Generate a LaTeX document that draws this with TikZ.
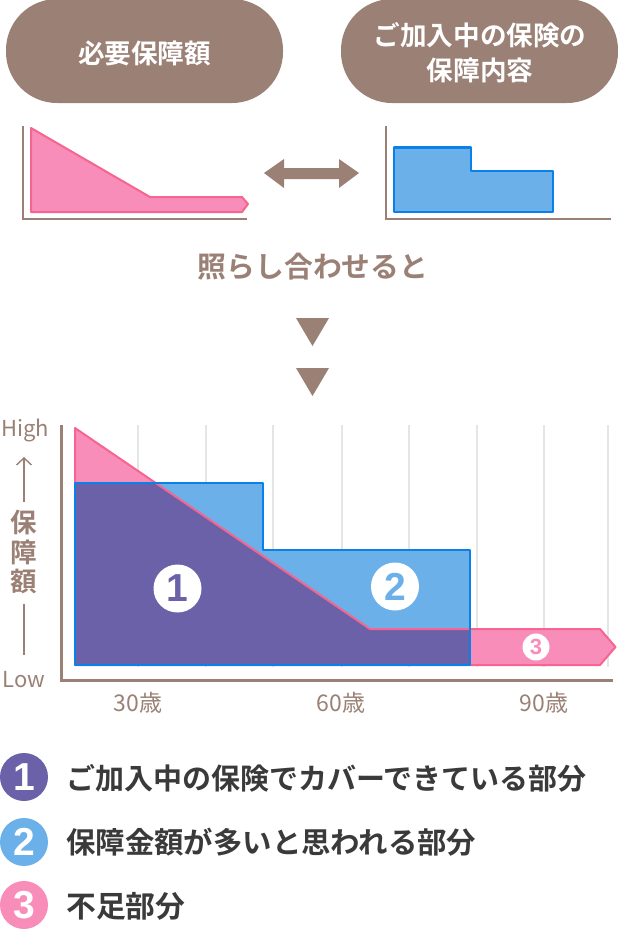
\documentclass[tikz,border=0pt]{standalone}
\usepackage{fontspec}
\setmainfont{Noto Sans CJK JP}[BoldFont={Noto Sans CJK JP Bold}]
\newfontfamily\digitf{Liberation Sans}
\usetikzlibrary{arrows.meta}
\definecolor{brownc}{HTML}{9A8075}
\definecolor{pinkf}{HTML}{F88DB9}
\definecolor{pinks}{HTML}{F5658F}
\definecolor{bluef}{HTML}{6CB0E9}
\definecolor{blues}{HTML}{0A80EA}
\definecolor{purp}{HTML}{6A61A8}
\definecolor{gridc}{HTML}{E5E5E5}
\definecolor{inkc}{HTML}{3A3A3A}
\newcommand{\fs}[1]{\fontsize{#1pt}{#1pt}\selectfont}
\tikzset{
  pill/.style={fill=brownc,rounded corners=51pt,draw=none},
  head/.style={text=white,font=\fs{26.6}\bfseries,align=center,inner sep=0pt},
  axisline/.style={draw=brownc,line width=#1},
  pinkshape/.style={fill=pinkf,draw=pinks,line width=2pt,line join=round},
  blueshape/.style={fill=bluef,draw=blues,line width=2.4pt,line join=round},
  gridl/.style={draw=gridc,line width=1.3pt},
  tickt/.style={text=brownc,font=\fs{23},inner sep=0pt},
  vert/.style={text=brownc,font=\fs{26.5}\bfseries,inner sep=0pt},
  tri/.style={fill=brownc,draw=none},
  badge/.style={circle,fill=white,inner sep=0pt},
  legc/.style={circle,inner sep=0pt,minimum size=48pt,text=white,font=\digitf\fs{39}\bfseries},
  legt/.style={anchor=west,text=inkc,inner sep=0pt},
}
\begin{document}
\begin{tikzpicture}[x=1pt,y=-1pt]
\useasboundingbox (0,0) rectangle (618,930);
% header pills
\begin{scope}
\clip (0,0) rectangle (618,930);
\fill[pill] (6,-1) rectangle (283,103);
\fill[pill] (341,-1) rectangle (618,103);
\end{scope}
\node[head] (h1) at (144.5,53) {必要保障額};
\node[head] (h2a) at (480,35.5) {ご加入中の保険の};
\node[head] (h2b) at (480,70) {保障内容};
% small charts
\draw[axisline=1.6pt] (23,126) -- (23,219) -- (247,219);
\path[pinkshape] (31,128) -- (150,197) -- (242,197) -- (248,204) -- (242,212) -- (31,212) -- cycle;
\draw[axisline=1.6pt] (386,126) -- (386,219) -- (611,219);
\path[blueshape] (394,147.5) -- (471,147.5) -- (471,171) -- (553,171) -- (553,212) -- (394,212) -- cycle;
% double arrow
\fill[brownc] (264,173) -- (284,159) -- (284,168) -- (339,168) -- (339,159) -- (359,173) -- (339,188) -- (339,179) -- (284,179) -- (284,188) -- cycle;
\node[text=brownc,font=\fs{28.8}\bfseries,inner sep=0pt] (mid) at (313,267) {照らし合わせると};
\fill[tri] (296,318) -- (329,318) -- (312.5,346) -- cycle;
\fill[tri] (296,368) -- (329,368) -- (312.5,396) -- cycle;
% grid
\foreach \gx in {138,206,273,342,409,477,544,608}
  \draw[gridl] (\gx,425) -- (\gx,667);
% areas
\def\pinkpath{(75,428) -- (370,629) -- (600,629) -- (615.5,647) -- (600,665) -- (75,665) -- cycle}
\def\bluepath{(75,483) -- (263,483) -- (263,550) -- (470,550) -- (470,665) -- (75,665) -- cycle}
\path[pinkshape] \pinkpath;
\fill[bluef] \bluepath;
\begin{scope}
\clip \bluepath;
\fill[purp] \pinkpath;
\draw[pinks,line width=2pt,line join=round] (75,428) -- (370,629) -- (600,629);
\end{scope}
\draw[blues,line width=2.6pt,line join=round] \bluepath;
% axes
\draw[axisline=3pt] (61.5,425) -- (61.5,680) -- (613,680);
% axis labels
\node[tickt,font=\fs{22}] (hi) at (25,430) {High};
\node[tickt,font=\fs{22}] (lo) at (24,680) {Low};
\coordinate (up0) at (24,502);
\coordinate (up1) at (24,457);
\coordinate (dn0) at (24,604);
\coordinate (dn1) at (24,655);
\draw[brownc,line width=1.6pt,-{Straight Barb[length=7pt,width=15pt,line width=1.4pt]}] (up0) -- (up1);
\draw[brownc,line width=1.6pt] (dn0) -- (dn1);
\node[vert] (v1) at (24,522) {保};
\node[vert] (v2) at (24,552.5) {障};
\node[vert] (v3) at (24,581.5) {額};
\node[tickt] (t30) at (138,702.5) {30歳};
\node[tickt] (t60) at (341,702.5) {60歳};
\node[tickt] (t90) at (544,702.5) {90歳};
% badges
\node[badge,minimum size=48pt,text=purp,font=\digitf\fs{39}\bfseries] (b1) at (177.5,588.5) {1};
\node[badge,minimum size=48pt,text=bluef,font=\digitf\fs{39}\bfseries] (b2) at (395,586.5) {2};
\node[badge,minimum size=27pt,text=pinkf,font=\digitf\fs{22}\bfseries] (b3) at (536,647) {3};
% legend
\node[legc,fill=purp] (l1) at (24,777) {1};
\node[legc,fill=bluef] (l2) at (24,842) {2};
\node[legc,fill=pinkf] (l3) at (24,905) {3};
\node[legt,font=\fs{29}\bfseries] (lt1) at (66,778) {ご加入中の保険でカバーできている部分};
\node[legt,font=\fs{29.4}\bfseries] (lt2) at (66,842) {保障金額が多いと思われる部分};
\node[legt,font=\fs{29.8}\bfseries] (lt3) at (66,906) {不足部分};
\end{tikzpicture}
\end{document}
